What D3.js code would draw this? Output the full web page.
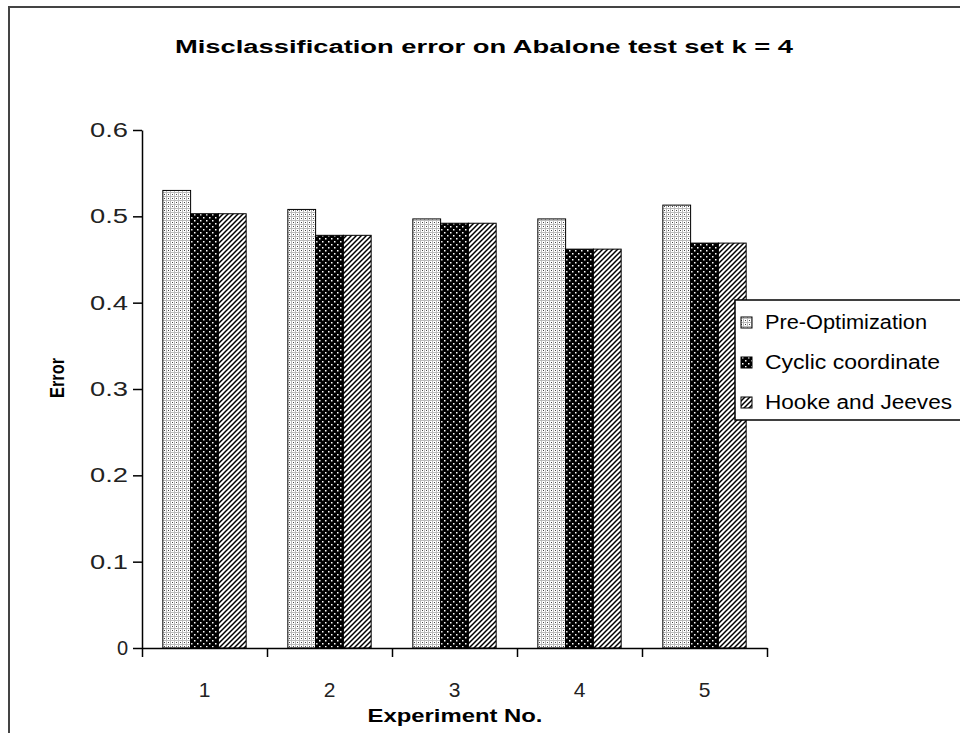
<!DOCTYPE html>
<html>
<head>
<meta charset="utf-8">
<script src="https://cdn.jsdelivr.net/npm/d3@7"></script>
<style>
  body { margin: 0; background: #fff; }
  svg { display: block; font-family: Arial, "Liberation Sans", sans-serif; }
</style>
</head>
<body>
<div class="abalone-viz"></div>
<script>
// data
const experiments = ["1", "2", "3", "4", "5"];
const seriesNames = ["Pre-Optimization", "Cyclic coordinate", "Hooke and Jeeves"];
const preOptimization = [0.530, 0.508, 0.497, 0.497, 0.513];
const cyclicCoordinate = [0.503, 0.478, 0.492, 0.462, 0.469];
const hookeJeeves = [0.503, 0.478, 0.492, 0.462, 0.469];
const yTicks = [0, 0.1, 0.2, 0.3, 0.4, 0.5, 0.6];

function drawChart() {
    const width = 960, height = 733;
    const plot = {left: 142, right: 767, top: 130, bottom: 648};

    const data = experiments.map((e, i) => ({
        exp: e,
        values: [preOptimization[i], cyclicCoordinate[i], hookeJeeves[i]]
    }));

    const svg = d3.select(".abalone-viz")
      .append("svg")
        .attr("width", width)
        .attr("height", height);

    // fill patterns, one per series
    const defs = svg.append("defs");

    const pPre = defs.append("pattern")
        .attr("id", "pat-pre")
        .attr("patternUnits", "userSpaceOnUse")
        .attr("width", 4).attr("height", 4);
    pPre.append("rect").attr("width", 4).attr("height", 4).attr("fill", "#fff");
    pPre.append("rect").attr("width", 4).attr("height", 1).attr("fill", "#bbb");
    pPre.append("rect").attr("width", 1).attr("height", 4).attr("fill", "#bbb");
    pPre.append("rect").attr("x", 2).attr("y", 2).attr("width", 1).attr("height", 1).attr("fill", "#444");

    const pCyc = defs.append("pattern")
        .attr("id", "pat-cyc")
        .attr("patternUnits", "userSpaceOnUse")
        .attr("width", 6).attr("height", 6);
    pCyc.append("rect").attr("width", 6).attr("height", 6).attr("fill", "#000");
    pCyc.append("rect").attr("x", 1).attr("y", 1).attr("width", 1.5).attr("height", 1.5).attr("fill", "#fff");
    pCyc.append("rect").attr("x", 4).attr("y", 4).attr("width", 1.5).attr("height", 1.5).attr("fill", "#fff");

    const pHook = defs.append("pattern")
        .attr("id", "pat-hook")
        .attr("patternUnits", "userSpaceOnUse")
        .attr("width", 5).attr("height", 5);
    pHook.append("rect").attr("width", 5).attr("height", 5).attr("fill", "#fff");
    pHook.append("path")
        .attr("d", "M-1,1 l2,-2 M0,5 l5,-5 M4,6 l2,-2")
        .attr("stroke", "#000")
        .attr("stroke-width", 1.5);

    const color = d3.scaleOrdinal()
        .domain(seriesNames)
        .range(["url(#pat-pre)", "url(#pat-cyc)", "url(#pat-hook)"]);

    // outer frame
    svg.append("path")
        .attr("d", `M9,${height + 5} V7 H${width + 5}`)
        .attr("fill", "none")
        .attr("stroke", "#444")
        .attr("stroke-width", 2);

    // scales
    const x0 = d3.scaleBand()
        .domain(experiments)
        .range([plot.left, plot.right]);
    const gap = x0.bandwidth() / 6;
    const x1 = d3.scaleBand()
        .domain(seriesNames)
        .range([gap, x0.bandwidth() - gap]);
    const y = d3.scaleLinear()
        .domain([0, 0.6])
        .range([plot.bottom, plot.top]);

    // bars
    svg.append("g")
      .selectAll("g")
      .data(data)
      .join("g")
        .attr("transform", d => `translate(${x0(d.exp)},0)`)
      .selectAll("rect")
      .data(d => d.values.map((v, i) => ({key: seriesNames[i], value: v})))
      .join("rect")
        .attr("x", d => x1(d.key))
        .attr("y", d => y(d.value))
        .attr("width", x1.bandwidth())
        .attr("height", d => y(0) - y(d.value))
        .attr("fill", d => color(d.key))
        .attr("stroke", "#000")
        .attr("stroke-width", 1);

    // Y axis
    const yAxis = svg.append("g")
        .attr("transform", `translate(${plot.left},0)`)
        .call(d3.axisLeft(y)
            .tickValues(yTicks)
            .tickSize(9)
            .tickPadding(5)
            .tickSizeOuter(0)
            .tickFormat(d => d === 0 ? "0" : d.toFixed(1)));
    yAxis.selectAll("text")
        .attr("font-size", 20)
        .attr("fill", "#222")
        .filter(d => d !== 0)
        .attr("textLength", 38)
        .attr("lengthAdjust", "spacingAndGlyphs");

    // X axis: ticks at the band edges, labels at band centers
    const xEdges = d3.scaleLinear()
        .domain([0, experiments.length])
        .range([plot.left, plot.right]);
    svg.append("g")
        .attr("transform", `translate(0,${plot.bottom})`)
        .call(d3.axisBottom(xEdges)
            .ticks(experiments.length)
            .tickSize(9)
            .tickSizeOuter(0)
            .tickFormat(""));
    const xLabels = svg.append("g")
        .attr("transform", `translate(0,${plot.bottom})`)
        .call(d3.axisBottom(x0).tickSize(0).tickPadding(34));
    xLabels.select(".domain").remove();
    xLabels.selectAll("text")
        .attr("font-size", 21)
        .attr("fill", "#222");

    svg.selectAll(".domain, .tick line")
        .attr("stroke", "#000")
        .attr("stroke-width", 1.5);

    // titles
    svg.append("text")
        .attr("x", 484)
        .attr("y", 53)
        .attr("text-anchor", "middle")
        .attr("textLength", 618)
        .attr("lengthAdjust", "spacingAndGlyphs")
        .attr("font-size", 18)
        .attr("font-weight", "bold")
        .text("Misclassification error on Abalone test set k = 4");

    svg.append("text")
        .attr("x", 455)
        .attr("y", 722)
        .attr("text-anchor", "middle")
        .attr("textLength", 175)
        .attr("lengthAdjust", "spacingAndGlyphs")
        .attr("font-size", 19)
        .attr("font-weight", "bold")
        .text("Experiment No.");

    svg.append("text")
        .attr("transform", "translate(64,378) rotate(-90)")
        .attr("text-anchor", "middle")
        .attr("textLength", 40)
        .attr("lengthAdjust", "spacingAndGlyphs")
        .attr("font-size", 20)
        .attr("font-weight", "bold")
        .text("Error");

    // legend
    const legend = svg.append("g").attr("transform", "translate(735,300)");
    legend.append("rect")
        .attr("width", 235)
        .attr("height", 120)
        .attr("fill", "#fff")
        .attr("stroke", "#000")
        .attr("stroke-width", 1.5);
    const legendWidths = [162, 175, 187];
    const items = legend.selectAll("g.item")
        .data(seriesNames)
        .join("g")
        .attr("class", "item")
        .attr("transform", (d, i) => `translate(0,${22 + i * 40})`);
    items.append("rect")
        .attr("x", 6)
        .attr("y", -5)
        .attr("width", 11)
        .attr("height", 11)
        .attr("fill", d => color(d))
        .attr("stroke", "#000");
    items.append("text")
        .attr("x", 30)
        .attr("y", 7)
        .attr("textLength", (d, i) => legendWidths[i])
        .attr("lengthAdjust", "spacingAndGlyphs")
        .attr("font-size", 20)
        .text(d => d);
}

drawChart();
</script>
</body>
</html>
